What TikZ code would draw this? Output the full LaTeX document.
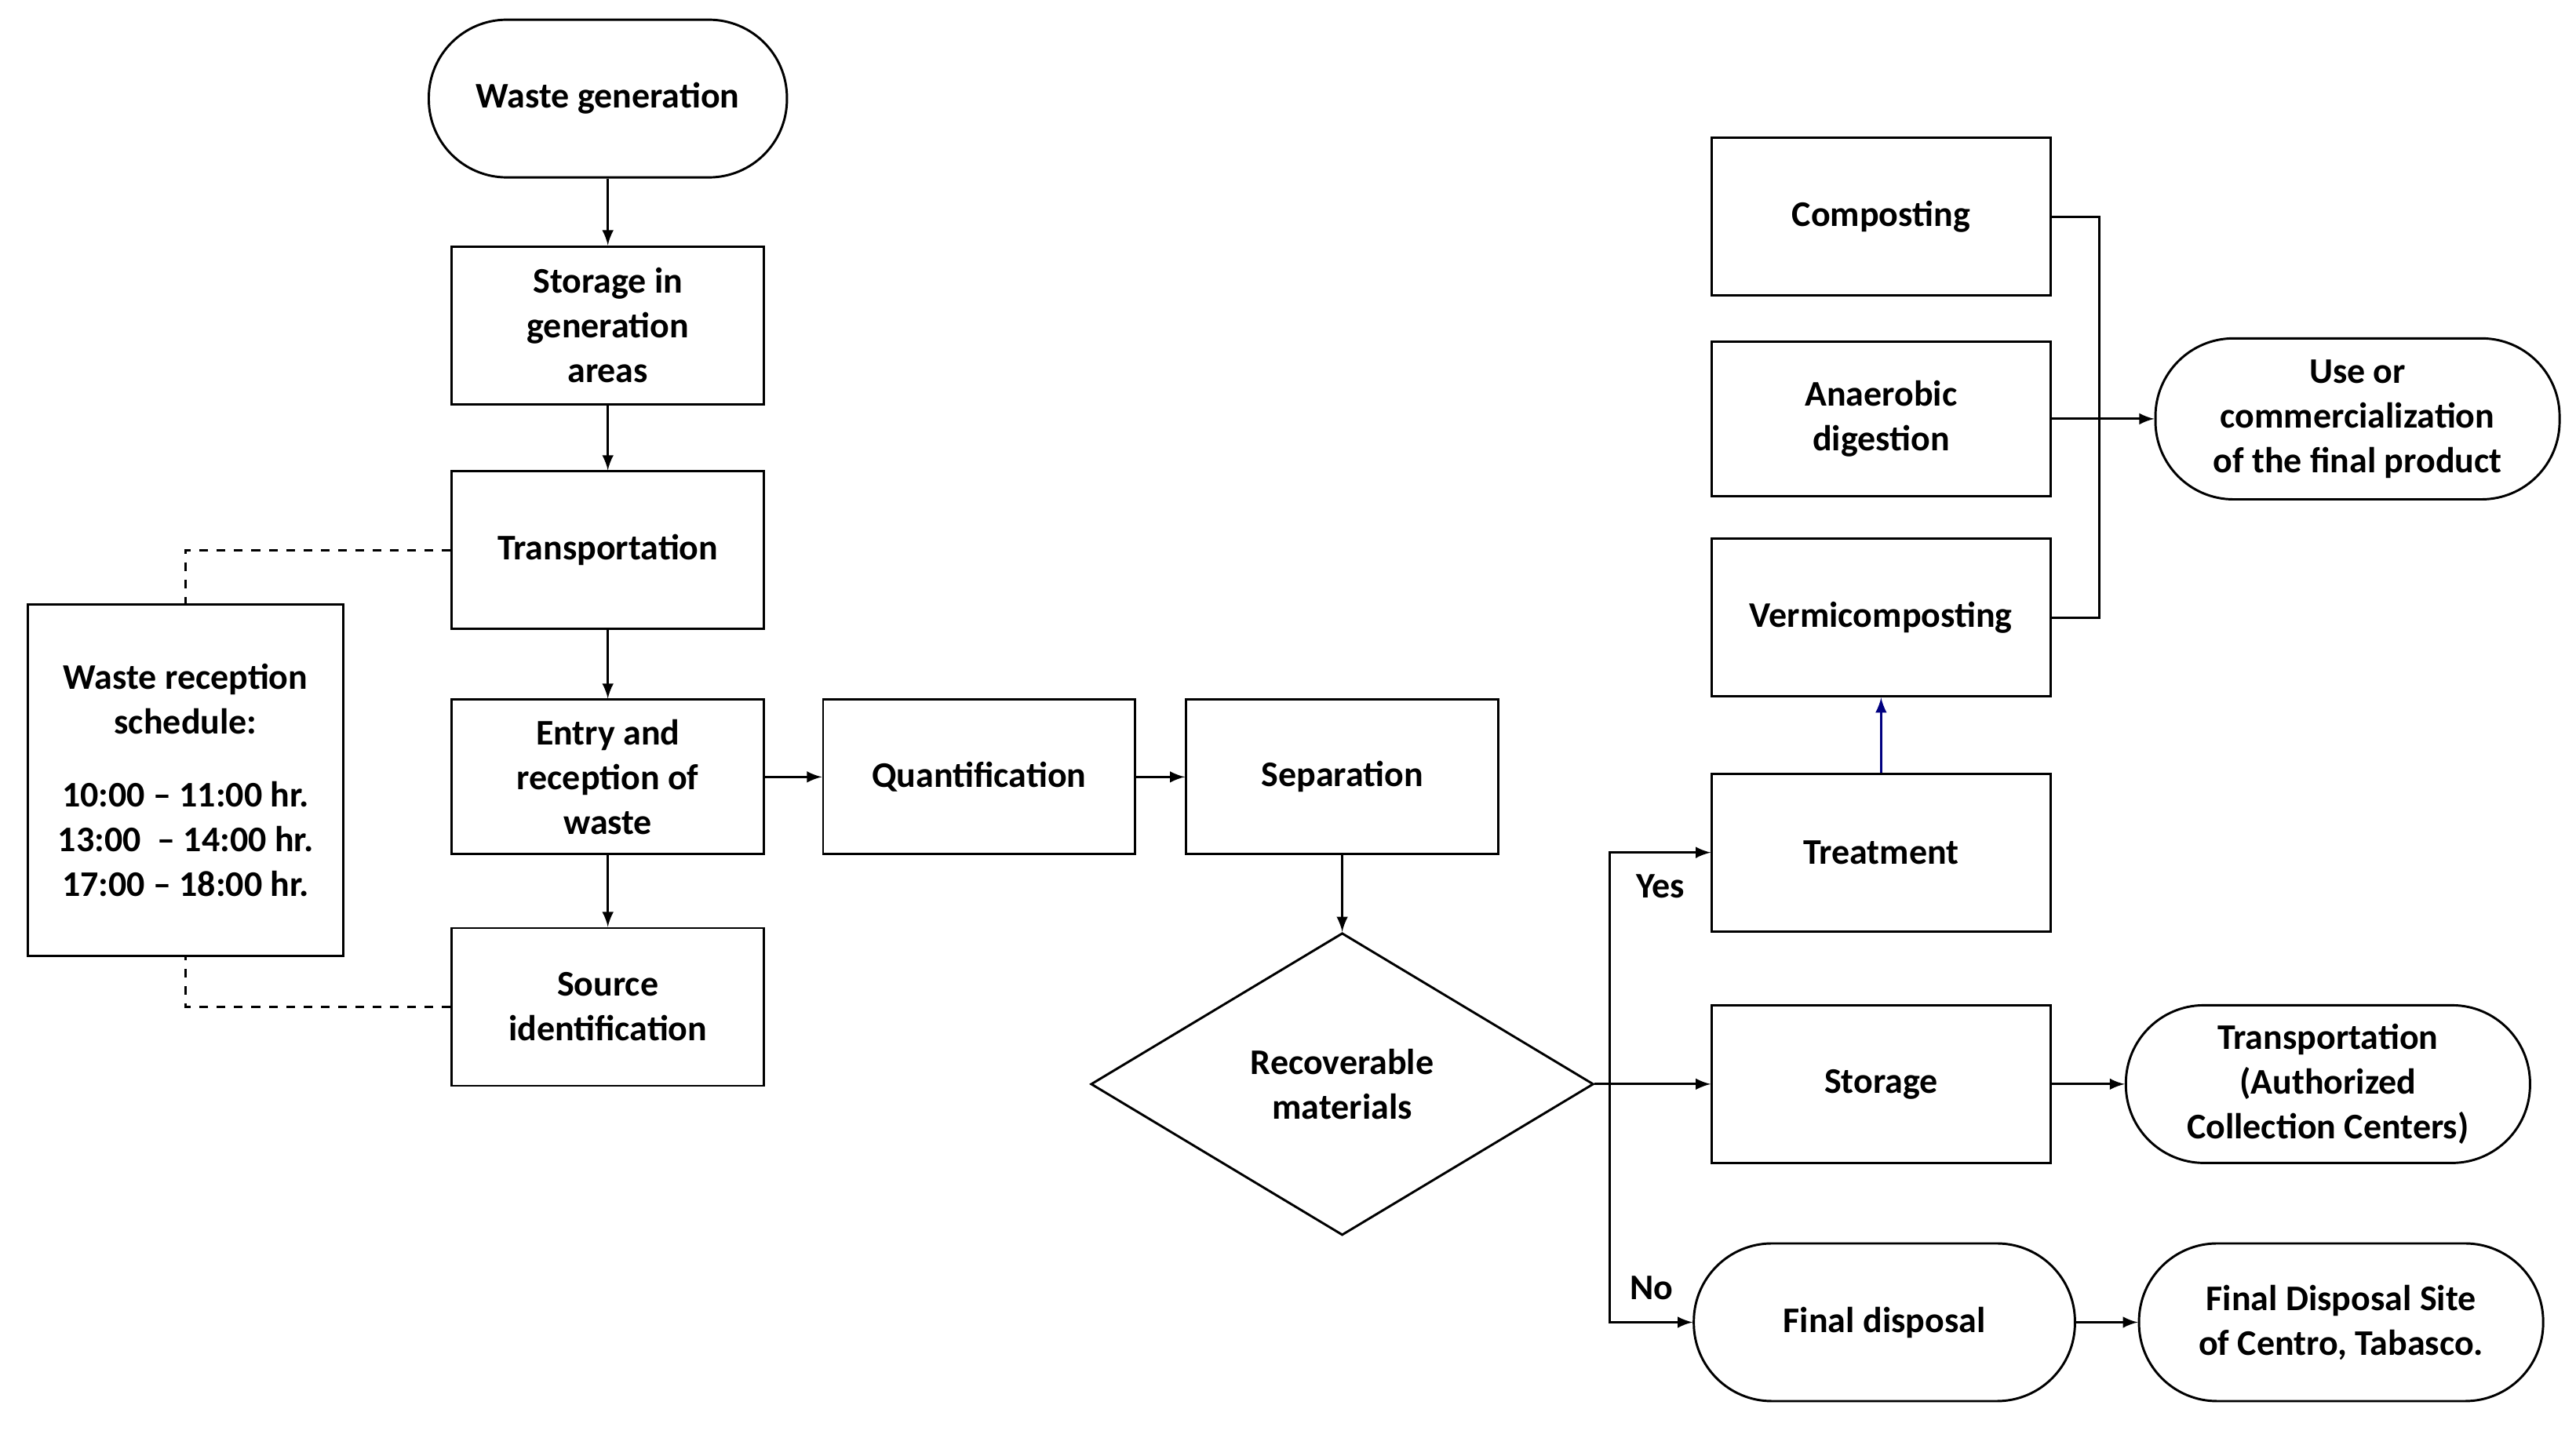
\documentclass[tikz,border=0pt]{standalone}
\usepackage{fontspec}
\setmainfont{Carlito}
\usetikzlibrary{shapes.geometric}

\tikzset{
    box/.style={draw, thick, align=center, font=\bfseries\fontsize{12.5}{15.5}\selectfont, inner sep=2pt},
    term/.style={box, rounded corners=0.95cm},
    link/.style={thick, -latex},
    guide/.style={thick, dashed}
}

\begin{document}
\begin{tikzpicture}[x=0.02cm, y=-0.02cm]
    \useasboundingbox (0,0) rectangle (1568,875);
    % left column
    \node[term, minimum width=218*0.02cm, minimum height=96*0.02cm] (gen) at (370,60) {Waste generation};
    \node[box, minimum width=190*0.02cm, minimum height=96*0.02cm] (store) at (370,198) {Storage in\\generation\\areas};
    \node[box, minimum width=190*0.02cm, minimum height=96*0.02cm] (trans) at (370,335) {Transportation};
    \node[box, minimum width=190*0.02cm, minimum height=94*0.02cm] (entry) at (370,473) {Entry and\\reception of\\waste};
    \node[box, minimum width=190*0.02cm, minimum height=96*0.02cm] (source) at (370,613) {Source\\identification};
    \node[box, minimum width=192*0.02cm, minimum height=214*0.02cm] (sched) at (113,475) {Waste reception\\schedule:\\[10pt]10:00 -- 11:00 hr.\\13:00 ~-- 14:00 hr.\\17:00 -- 18:00 hr.};
    % middle
    \node[box, minimum width=190*0.02cm, minimum height=94*0.02cm] (quant) at (596,473) {Quantification};
    \node[box, minimum width=190*0.02cm, minimum height=94*0.02cm] (sep) at (817,473) {Separation};
    \node[box, diamond, aspect=1.66, minimum width=306*0.02cm, minimum height=184*0.02cm, inner sep=0pt] (rec) at (817,660) {Recoverable\\materials};
    % right
    \node[box, minimum width=206*0.02cm, minimum height=96*0.02cm] (compost) at (1145,132) {Composting};
    \node[box, minimum width=206*0.02cm, minimum height=94*0.02cm] (anaer) at (1145,255) {Anaerobic\\digestion};
    \node[box, minimum width=206*0.02cm, minimum height=96*0.02cm] (vermi) at (1145,376) {Vermicomposting};
    \node[box, minimum width=206*0.02cm, minimum height=96*0.02cm] (treat) at (1145,519) {Treatment};
    \node[box, minimum width=206*0.02cm, minimum height=96*0.02cm] (storage) at (1145,660) {Storage};
    \node[term, minimum width=232*0.02cm, minimum height=96*0.02cm] (final) at (1147,805) {Final disposal};
    \node[term, minimum width=246*0.02cm, minimum height=98*0.02cm] (use) at (1435,255) {Use or\\commercialization\\of the final product};
    \node[term, minimum width=246*0.02cm, minimum height=96*0.02cm] (trans2) at (1417,660) {Transportation\\(Authorized\\Collection Centers)};
    \node[term, minimum width=246*0.02cm, minimum height=96*0.02cm] (site) at (1425,805) {Final Disposal Site\\of Centro, Tabasco.};
    \coordinate (split) at (980,660);
    \coordinate (join) at (1278,255);

    \draw[link] (gen) -- (store);
    \draw[link] (store) -- (trans);
    \draw[link] (trans) -- (entry);
    \draw[link] (entry) -- (source);
    \draw[link] (entry) -- (quant);
    \draw[link] (quant) -- (sep);
    \draw[link] (sep) -- (rec);
    \draw[guide] (trans.west) -| (sched.north);
    \draw[guide] (source.west) -| (sched.south);

    \draw[thick] (rec.east) -- (split);
    \draw[link] (split) |- (treat.west) node[pos=0.75, below, font=\bfseries\fontsize{12.5}{15}\selectfont, yshift=-4pt] {Yes};
    \draw[link] (split) -- (storage.west);
    \draw[link] (split) |- (final.west) node[pos=0.75, above, font=\bfseries\fontsize{12.5}{15}\selectfont, yshift=4pt] {No};
    \draw[link, blue!50!black] (treat) -- (vermi);
    \draw[thick] (compost.east) -| (join);
    \draw[thick] (vermi.east) -| (join);
    \draw[link] (anaer.east) -- (use.west);
    \draw[link] (storage) -- (trans2);
    \draw[link] (final) -- (site);
\end{tikzpicture}
\end{document}
